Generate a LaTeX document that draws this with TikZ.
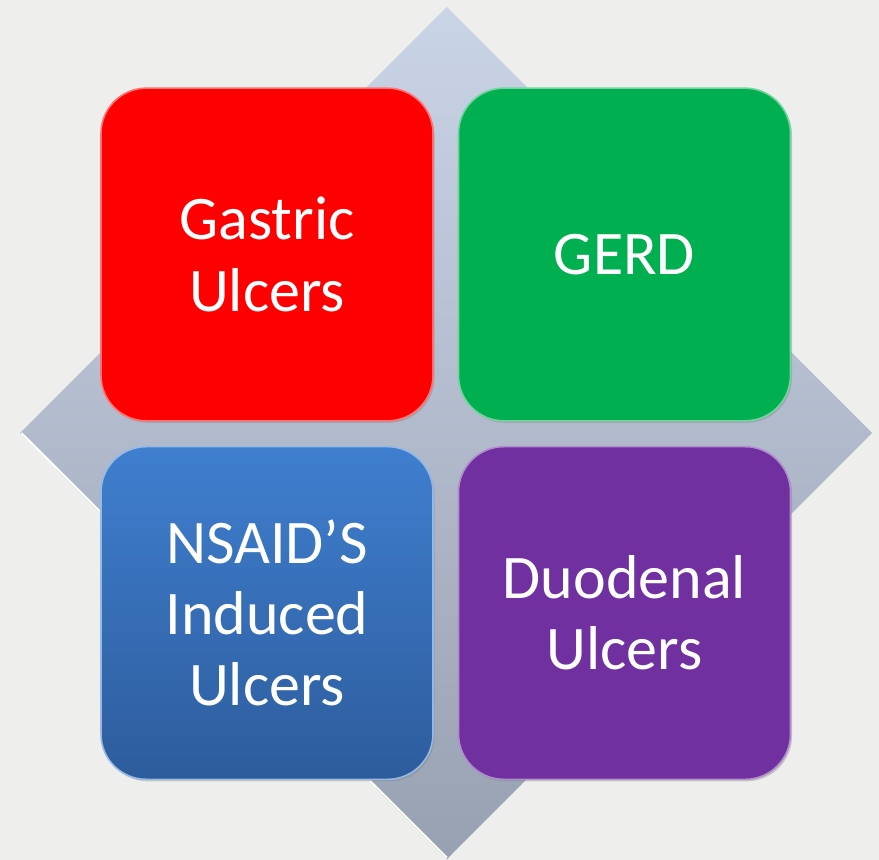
\documentclass[tikz,border=0pt]{standalone}
\usepackage{fontspec}
\setmainfont{Carlito}
\usepackage{tikz}
\usetikzlibrary{shadows}
\definecolor{bgpaper}{HTML}{EEEEEC}
\definecolor{diatop}{HTML}{CAD4E7}
\definecolor{diabot}{HTML}{97A1B1}
\definecolor{gured}{HTML}{FF0000}
\definecolor{gerdgreen}{HTML}{00B050}
\definecolor{nstop}{HTML}{3F7FCF}
\definecolor{nsbot}{HTML}{2D5C9C}
\definecolor{dupurple}{HTML}{7030A0}
\tikzset{
  tile/.style={rounded corners=34pt, minimum width=249pt, minimum height=249.5pt,
    inner sep=0pt, align=center, text=white, font=\fontsize{46.5}{53.5}\selectfont,
    line width=1.2pt, drop shadow={shadow xshift=1.2pt, shadow yshift=-1.5pt, opacity=0.35}}
}

\begin{document}
\begin{tikzpicture}[x=0.75pt,y=-0.75pt]
\fill[bgpaper] (0,0) rectangle (879,860);
\useasboundingbox (0,0) rectangle (879,860);
% backing diamond
\coordinate (T) at (447,7);
\coordinate (R) at (872,433);
\coordinate (B) at (447,859);
\coordinate (L) at (20,433);
\shade[top color=diatop, bottom color=diabot] (T) -- (R) -- (B) -- (L) -- cycle;
\draw[white, line width=1.5pt] ([xshift=1pt]L) -- ([yshift=1pt]B);
\node[tile, fill=gured, draw=red!55!white] (GU) at (267,254.5) {Gastric\\Ulcers};
\node[tile, fill=gerdgreen, draw=gerdgreen!55!white] (GERD) at (624.5,254.5) {GERD};
\node[tile, top color=nstop, bottom color=nsbot, draw=nstop!55!white] (NS) at (267,613) {NSAID’S\\Induced\\Ulcers};
\node[tile, fill=dupurple, draw=dupurple!55!white] (DU) at (624.5,613) {Duodenal\\Ulcers};
\end{tikzpicture}
\end{document}
